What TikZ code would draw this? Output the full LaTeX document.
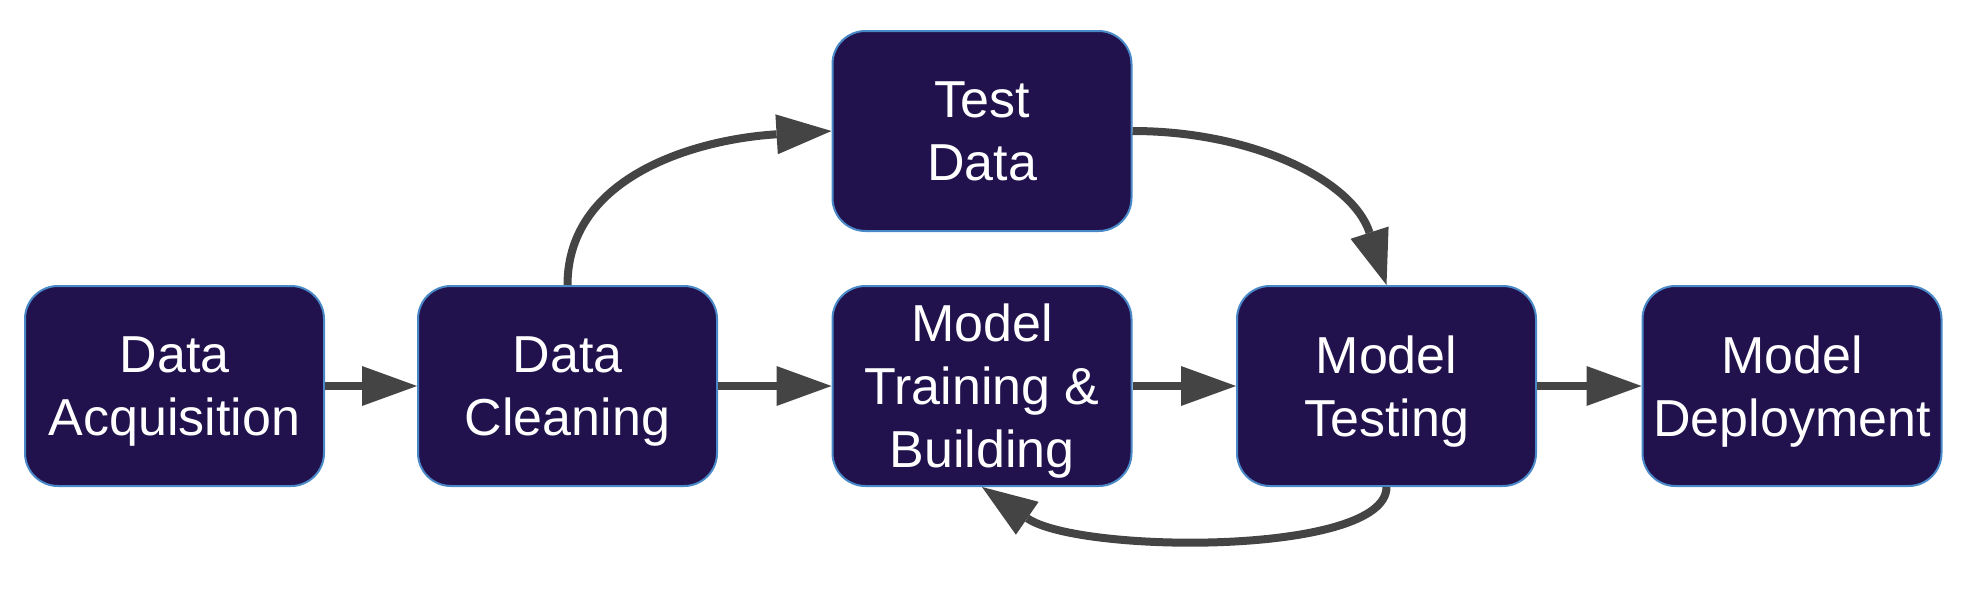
\documentclass[tikz,border=0pt]{standalone}
\usepackage{fontspec}
\setmainfont{Liberation Sans}
\usetikzlibrary{arrows.meta}
\definecolor{boxfill}{RGB}{33,17,77}
\definecolor{boxline}{RGB}{74,137,200}
\definecolor{arr}{RGB}{68,68,68}
\begin{document}
\begin{tikzpicture}[x=0.5pt,y=-0.5pt,
  stage/.style={draw=boxline, line width=1pt, fill=boxfill, rounded corners=16.5pt,
    minimum width=149.5pt, minimum height=100pt, inner sep=0pt, align=center,
    text depth=0pt, text=white, font=\fontsize{26}{31.5}\selectfont},
  flow/.style={draw=arr, line width=4pt, -{Triangle[length=27.5pt,width=20pt,line width=0pt]}}]
\useasboundingbox (0,0) rectangle (1976,600);
\node[stage] (da) at (174.5,386) {Data\\Acquisition};
\node[stage] (dc) at (567.5,386) {Data\\Cleaning};
\node[stage] (mt) at (982,386) {Model\\Training \&\\Building};
\node[stage] (ts) at (1386.5,386) {Model\\Testing};
\node[stage] (md) at (1792,386) {Model\\Deployment};
\node[stage] (td) at (982,131) {Test\\Data};
\draw[flow] (da) -- (dc);
\draw[flow] (dc) -- (mt);
\draw[flow] (mt) -- (ts);
\draw[flow] (ts) -- (md);
\draw[flow] (dc.north) .. controls +(0,-110) and +(-133,8) .. (td.west);
\draw[flow] (td.east) .. controls +(120,0) and +(-34,-105) .. (ts.north);
\draw[flow] (ts.south) .. controls +(0,69) and +(97,67) .. (mt.south);
\end{tikzpicture}
\end{document}
